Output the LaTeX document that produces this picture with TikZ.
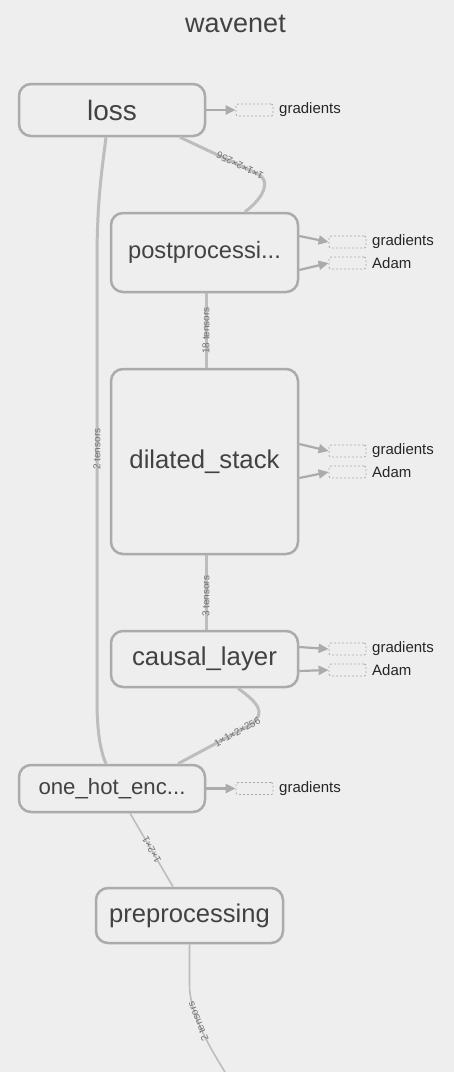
\documentclass[tikz,border=0pt]{standalone}
\usepackage{fontspec}
\setmainfont{Liberation Sans}
\usetikzlibrary{arrows.meta}
\definecolor{bggray}{HTML}{EEEEEE}
\definecolor{boxgray}{HTML}{ABABAB}
\definecolor{edgegray}{HTML}{BDBDBD}
\definecolor{txtgray}{HTML}{424242}
\begin{document}
\begin{tikzpicture}[x=1pt,y=-1pt,
  op/.style={draw=boxgray,line width=2.5pt,rounded corners=12pt,fill=bggray,
    inner sep=0pt,text=txtgray,font=\fontsize{#1}{#1}\selectfont},
  aux/.style={draw=boxgray,dash pattern=on 2pt off 2pt,line width=0.8pt,
    rounded corners=2pt,minimum width=37pt,minimum height=12pt,inner sep=0pt},
  auxlabel/.style={anchor=west,inner sep=0pt,text=black!85,
    font=\fontsize{15}{18}\selectfont},
  toaux/.style={draw=boxgray,line width=2.2pt,-{Triangle[length=10pt,width=9pt]}},
  flow/.style={draw=edgegray,line width=3pt},
  thinflow/.style={draw=edgegray,line width=1.6pt},
  elabel/.style={inner sep=0pt,text=black!55,font=\fontsize{10}{12}\selectfont}]
  \fill[bggray] (0,0) rectangle (454,1072);
  \useasboundingbox (0,0) rectangle (454,1072);

  \node[text=txtgray,font=\fontsize{27}{30}\selectfont] (title) at (235.5,24) {wavenet};

  \node[op=28,minimum width=186pt,minimum height=52pt] (loss) at (112,110) {loss};
  \node[op=23.7,minimum width=187pt,minimum height=79pt] (postproc) at (204.5,252.5) {postprocessi...};
  \node[op=25.7,minimum width=187pt,minimum height=185pt] (dilated) at (204.5,461.5) {dilated\_stack};
  \node[op=25.8,minimum width=187pt,minimum height=56pt] (causal) at (204.5,659) {causal\_layer};
  \node[op=22.2,minimum width=186pt,minimum height=47pt] (onehot) at (112,788.5) {one\_hot\_enc...};
  \node[op=25.6,minimum width=187pt,minimum height=55pt] (preproc) at (189.5,915.5) {preprocessing};
  \coordinate (outlet) at (225,1072);

  \node[aux] (lossgrad) at (254.5,110) {};
  \node[auxlabel] (lossgradtxt) at (279,110) {gradients};
  \node[aux] (postgrad) at (347.5,242) {};
  \node[auxlabel] (postgradtxt) at (372,242) {gradients};
  \node[aux] (postadam) at (347.5,263) {};
  \node[auxlabel] (postadamtxt) at (372,263) {Adam};
  \node[aux] (dilgrad) at (347.5,451) {};
  \node[auxlabel] (dilgradtxt) at (372,451) {gradients};
  \node[aux] (diladam) at (347.5,472) {};
  \node[auxlabel] (diladamtxt) at (372,472) {Adam};
  \node[aux] (causgrad) at (347.5,649) {};
  \node[auxlabel] (causgradtxt) at (372,649) {gradients};
  \node[aux] (causadam) at (347.5,670) {};
  \node[auxlabel] (causadamtxt) at (372,670) {Adam};
  \node[aux] (onehotgrad) at (254.5,788.5) {};
  \node[auxlabel] (onehotgradtxt) at (279,788.5) {gradients};

  \draw[toaux] (loss.east) -- (lossgrad.west);
  \draw[toaux] ([yshift=16.5pt]postproc.east) -- (postgrad.west);
  \draw[toaux] ([yshift=-17.5pt]postproc.east) -- (postadam.west);
  \draw[toaux] ([yshift=17.5pt]dilated.east) -- (dilgrad.west);
  \draw[toaux] ([yshift=-16.5pt]dilated.east) -- (diladam.west);
  \draw[toaux] ([yshift=12pt]causal.east) -- (causgrad.west);
  \draw[toaux] ([yshift=-12pt]causal.east) -- (causadam.west);
  \draw[toaux] (onehot.east) -- (onehotgrad.west);

  \draw[flow] ([xshift=68pt]loss.south) -- node[elabel,rotate=154,pos=0.77] {1×1×2×256} (258,174)
    .. controls (270,180) and (266,196) .. ([xshift=40.5pt]postproc.north);
  \draw[flow] ([xshift=1.5pt]postproc.south) -- node[elabel,rotate=90] {18 tensors} ([xshift=1.5pt]dilated.north);
  \draw[flow] ([xshift=1.5pt]dilated.south) -- node[elabel,rotate=90,pos=0.55] {3 tensors} ([xshift=1.5pt]causal.north);
  \draw[flow] ([xshift=33.5pt]causal.south) .. controls (258,703) and (266,712) .. (252,724)
    -- node[elabel,rotate=29,pos=0.2] {1×1×2×256} ([xshift=66pt]onehot.north);
  \draw[flow] ([xshift=-6pt]loss.south) .. controls (102,170) and (97,200) .. (97,260)
    -- node[elabel,rotate=90,pos=0.43] {2 tensors} (97,700)
    .. controls (97,730) and (100,750) .. ([xshift=-6pt]onehot.north);
  \draw[thinflow] ([xshift=18pt]onehot.south) -- node[elabel,rotate=119.5] {1×2×1} ([xshift=-16.5pt]preproc.north);
  \draw[thinflow] (preproc.south) -- (189.5,985) .. controls (189.5,1010) and (205,1040) ..
    node[elabel,rotate=112,pos=0.45] {2 tensors} (outlet);
\end{tikzpicture}
\end{document}
